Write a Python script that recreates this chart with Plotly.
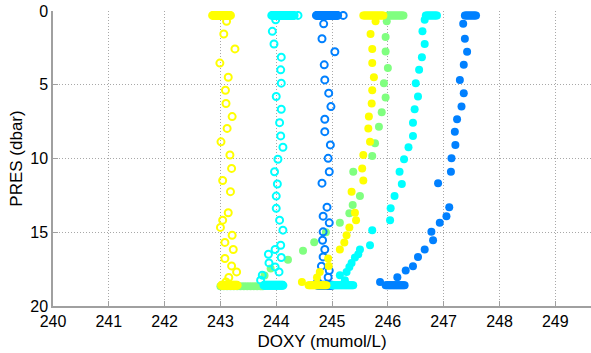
import plotly.graph_objects as go

# ---------------- data ----------------
SURF_PRES = 0.3        # pressure of the surface samples
BOT_PRES = 18.6        # pressure of the bottom samples
BOT_PRES_GREEN = 18.66

# Yellow pair (shared pressures for the profile part)
pres_yellow = [0.7, 1.56, 2.57, 3.53, 4.49, 5.37, 6.27, 7.16, 7.96, 8.87, 9.76, 10.67,
               11.49, 12.25, 13.68, 14.18, 14.67, 15.2, 15.69, 16.17, 16.78, 17.28,
               17.69, 18.07, 18.37]
yo_prof = [243.11, 243.06, 243.26, 242.99, 243.14, 243.09, 243.10, 243.21, 243.12, 243.01,
           243.17, 243.20, 243.04, 243.18, 243.14, 243.04, 243.00, 243.21, 243.08, 243.23,
           243.08, 243.20, 243.29, 243.15, 243.1]
yf_prof = [245.78, 245.69, 245.72, 245.72, 245.75, 245.72, 245.71, 245.66, 245.65, 245.68,
           245.56, 245.54, 245.56, 245.35, 245.41, 245.43, 245.31, 245.26, 245.22, 245.14,
           244.93, 244.94, 244.78, 244.73, 244.46]
yo_surf = [242.86, 242.88, 242.90, 242.92, 242.94, 242.96, 242.98, 243.00, 243.02, 243.04,
           243.06, 243.08, 243.10, 243.12, 243.14, 243.16, 243.18]
yo_bot = [243.02, 243.04, 243.06, 243.08, 243.10, 243.12, 243.14, 243.16, 243.18, 243.20,
          243.22, 243.24, 243.26, 243.28, 243.30]
yf_surf = [245.56, 245.58, 245.60, 245.62, 245.64, 245.66, 245.68, 245.70, 245.72, 245.74,
           245.76, 245.78, 245.80, 245.82, 245.84, 245.86, 245.88, 245.90, 245.92]
yf_bot = [244.58, 244.60, 244.62, 244.64, 244.66, 244.68, 244.70, 244.72, 244.74, 244.76,
          244.78, 244.80, 244.82, 244.84, 244.86, 244.88, 244.90]

# Cyan pair
pres_cyan = [0.59, 1.38, 2.24, 3.13, 3.99, 4.89, 5.8, 6.66, 7.57, 8.47, 9.24, 10.05, 10.9,
             11.73, 12.55, 13.38, 14.18, 14.86, 15.88, 16.17, 16.49, 16.71, 17.08, 17.35,
             17.69, 17.91, 18.25]
co_prof = [243.99, 243.93, 243.96, 244.09, 244.08, 244.09, 244.00, 244.09, 244.06, 244.08,
           244.12, 244.03, 243.97, 244.02, 244.00, 244.00, 244.06, 244.12, 244.08, 243.98,
           243.86, 244.09, 243.87, 243.98, 244.05, 243.75, 243.72]
cf_prof = [246.66, 246.62, 246.66, 246.61, 246.56, 246.50, 246.54, 246.48, 246.45, 246.45,
           246.37, 246.29, 246.21, 246.25, 246.12, 246.05, 246.04, 245.72, 245.68, 245.50,
           245.47, 245.41, 245.35, 245.31, 245.26, 245.14, 245.23]
co_surf = [243.92, 243.94, 243.96, 243.98, 244.00, 244.02, 244.04, 244.06, 244.08, 244.10,
           244.12, 244.14, 244.16, 244.18, 244.20, 244.22, 244.24, 244.26, 244.28, 244.30,
           244.32, 244.39]
co_bot = [243.78, 243.80, 243.82, 243.84, 243.86, 243.88, 243.90, 243.92, 243.94, 243.96,
          243.98, 244.00, 244.02, 244.04, 244.06, 244.08, 244.10, 244.12]
cf_surf = [246.68, 246.70, 246.72, 246.74, 246.76, 246.78, 246.80, 246.82, 246.84, 246.86,
           246.88]
cf_bot = [245.00, 245.02, 245.04, 245.06, 245.08, 245.10, 245.12, 245.14, 245.16, 245.18,
          245.20, 245.22, 245.24, 245.26, 245.28, 245.30, 245.32, 245.34, 245.36, 245.38]

# Blue pair
pres_blue = [0.87, 1.88, 2.76, 3.65, 4.67, 5.57, 6.48, 7.34, 8.18, 9.08, 9.99, 10.9, 11.67,
             13.3, 13.91, 14.36, 14.97, 15.54, 16.17, 16.67, 17.3, 17.6, 18.05, 18.37]
bo_prof = [244.85, 244.82, 245.05, 244.86, 244.87, 244.94, 244.98, 244.87, 244.87, 244.97,
           244.93, 244.95, 244.82, 244.91, 244.84, 244.95, 244.84, 244.83, 244.87, 244.84,
           244.81, 244.95, 244.93, 244.74]
bf_prof = [247.35, 247.38, 247.42, 247.36, 247.29, 247.36, 247.32, 247.24, 247.20, 247.21,
           247.14, 247.13, 246.90, 247.10, 247.05, 246.93, 246.78, 246.81, 246.66, 246.54,
           246.45, 246.32, 246.17, 245.86]
bo_surf = [244.72, 244.74, 244.76, 244.78, 244.80, 244.82, 244.84, 244.86, 244.88, 244.90,
           244.92, 244.94, 244.96, 244.98, 245.00, 245.02, 245.04, 245.06, 245.08, 245.10,
           245.20]
bo_bot = [244.74, 244.76, 244.78, 244.80, 244.82, 244.84, 244.86, 244.88, 244.90, 244.92,
          244.94, 244.96, 244.98, 245.00]
bf_surf = [247.38, 247.40, 247.42, 247.44, 247.46, 247.48, 247.50, 247.52, 247.54, 247.56,
           247.58]
bf_bot = [245.96, 245.98, 246.00, 246.02, 246.04, 246.06, 246.08, 246.10, 246.12, 246.14,
          246.16, 246.18, 246.20, 246.22, 246.24, 246.26, 246.28, 246.30]

# Green (filled only)
pres_green = [0.7, 1.77, 2.74, 3.87, 4.89, 5.87, 6.86, 7.84, 8.97, 9.83, 10.9, 12.55,
              13.16, 13.72, 14.36, 15.0, 15.67, 16.26, 16.87, 17.46, 17.93]
g_prof = [245.98, 245.96, 245.96, 246.0, 245.93, 245.96, 245.89, 245.84, 245.77, 245.72,
          245.38, 245.50, 245.37, 245.31, 245.14, 244.89, 244.68, 244.48, 244.21, 243.9,
          243.79]
g_surf = [246.00, 246.02, 246.04, 246.06, 246.08, 246.10, 246.12, 246.14, 246.16, 246.18,
          246.20, 246.22, 246.24, 246.26, 246.28]
g_bot = [243.00, 243.06, 243.12, 243.18, 243.24, 243.30, 243.36, 243.42, 243.48, 243.54,
         243.60, 243.66, 243.72, 243.76]

x_ticks = [240, 241, 242, 243, 244, 245, 246, 247, 248, 249]
y_ticks = [0, 5, 10, 15, 20]

YELLOW = "#FFFF00"
CYAN = "#00FFFF"
BLUE = "#0080FF"
GREEN = "#80FF80"


def profile(surf, prof, bot, pres, bot_pres=BOT_PRES):
    x = list(surf) + list(prof) + list(bot)
    y = [SURF_PRES] * len(surf) + list(pres) + [bot_pres] * len(bot)
    return x, y


# ---------------- figure ----------------
fig = go.Figure()


def open_trace(xy, color):
    x, y = xy
    return go.Scatter(x=x, y=y, mode="markers", showlegend=False,
                      marker=dict(symbol="circle-open", size=7, color=color,
                                  line=dict(width=2, color=color)))


def fill_trace(xy, color):
    x, y = xy
    return go.Scatter(x=x, y=y, mode="markers", showlegend=False,
                      marker=dict(symbol="circle", size=8, color=color,
                                  line=dict(width=0)))


fig.add_trace(fill_trace(profile(g_surf, g_prof, g_bot, pres_green, BOT_PRES_GREEN), GREEN))
fig.add_trace(open_trace(profile(bo_surf, bo_prof, bo_bot, pres_blue), BLUE))
fig.add_trace(open_trace(profile(co_surf, co_prof, co_bot, pres_cyan), CYAN))
fig.add_trace(open_trace(profile(yo_surf, yo_prof, yo_bot, pres_yellow), YELLOW))
fig.add_trace(fill_trace(profile(bf_surf, bf_prof, bf_bot, pres_blue), BLUE))
fig.add_trace(fill_trace(profile(cf_surf, cf_prof, cf_bot, pres_cyan), CYAN))
fig.add_trace(fill_trace(profile(yf_surf, yf_prof, yf_bot, pres_yellow), YELLOW))

axis_common = dict(
    showline=True, linecolor="#a0a0a0", linewidth=1.5,
    ticks="inside", ticklen=5, tickcolor="#a0a0a0", tickwidth=1,
    showgrid=True, gridcolor="#a8a8a8", griddash="1px,2px", gridwidth=1,
    zeroline=False, mirror=False,
    tickfont=dict(family="Liberation Sans, Arial, sans-serif", size=16, color="black"),
)

fig.update_layout(
    width=591, height=353,
    margin=dict(l=53, r=0, t=11, b=47),
    paper_bgcolor="white", plot_bgcolor="white",
    font=dict(family="Liberation Sans, Arial, sans-serif", size=16, color="black"),
    xaxis=dict(range=[240, 249.64], tickvals=x_ticks,
               ticktext=[str(v) for v in x_ticks],
               title=dict(text="DOXY (mumol/L)", standoff=6,
                          font=dict(size=17, color="black")),
               **axis_common),
    yaxis=dict(range=[20, 0], tickvals=y_ticks,
               ticktext=[str(v) for v in y_ticks],
               title=dict(text="PRES (dbar)", standoff=3,
                          font=dict(size=17, color="black")),
               **axis_common),
)

fig.write_html("out.html")
